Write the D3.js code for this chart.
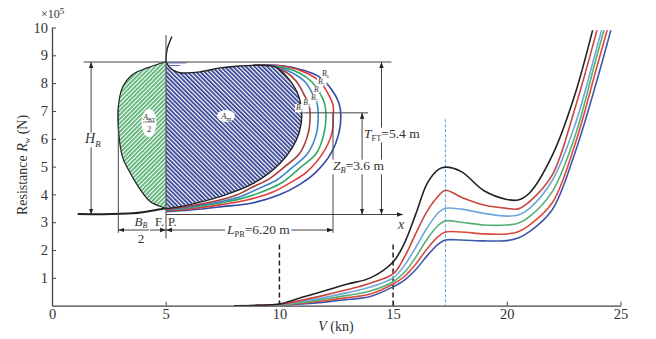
<!DOCTYPE html>
<html>
<head>
<meta charset="utf-8">
<script src="https://cdnjs.cloudflare.com/ajax/libs/d3/7.8.5/d3.min.js"></script>
<style>
body { margin: 0; background: #fff; }
text { font-family: "Liberation Serif", serif; fill: #333; }
</style>
</head>
<body>
<svg id="chart" width="656" height="339"></svg>
<script>
// resistance curves, V in knots, R in 10^5 N
var speed = [8, 9, 10, 11, 12, 13, 14, 15, 15.5, 16, 16.5, 17, 17.3, 18, 19, 20, 20.5, 21, 22, 23, 24, 25]
var r1 = [0, .01, .06, .30, .54, .78, 1.0, 1.57, 2.25, 3.3, 4.4, 4.9, 4.98, 4.82, 4.13, 3.82, 3.8, 4.05, 5.4, 7.6, 10.6, 13.6]
var r2 = [0, .01, .05, .20, .38, .58, .81, 1.14, 1.75, 2.6, 3.4, 3.95, 4.15, 3.9, 3.62, 3.5, 3.48, 3.74, 4.7, 7.1, 10, 13]
var r3 = [0, .01, .04, .16, .30, .47, .67, 1.0, 1.45, 2.1, 2.8, 3.35, 3.5, 3.47, 3.32, 3.22, 3.26, 3.5, 4.5, 6.5, 9.4, 12.4]
var r4 = [0, .01, .03, .12, .24, .37, .53, .86, 1.2, 1.75, 2.4, 2.9, 3.05, 3.0, 2.9, 2.9, 2.96, 3.2, 4.1, 6.1, 9.1, 12]
var r5 = [0, 0, .02, .09, .18, .29, .42, .78, 1.05, 1.5, 2.05, 2.5, 2.65, 2.65, 2.58, 2.58, 2.66, 2.9, 3.7, 5.8, 8.7, 11.6]
var r6 = [0, 0, .01, .06, .13, .22, .33, .68, .92, 1.3, 1.8, 2.22, 2.36, 2.36, 2.33, 2.34, 2.43, 2.66, 3.45, 5.5, 8.2, 11.2]
var rColors = ["#222222", "#c9463f", "#6fa8d8", "#55b078", "#dc4a3e", "#3f57ad"]

var xTicks = [0, 5, 10, 15, 20, 25]
var yTicks = [1, 2, 3, 4, 5, 6, 7, 8, 9, 10]
var dashMarks = [10, 15]

// inset hull sections, [x, z] in metres from midship and baseline
var foreHull = [[0, 5.41], [-.70, 5.19], [-1.25, 4.95], [-1.62, 4.49], [-1.77, 3.82], [-1.77, 3.07], [-1.62, 2.05], [-1.40, 1.59], [-1.03, .99], [-.59, .46], [-.11, .25], [0, .21]]
var b1 = [[0, 5.41], [.15, 5.19], [.33, 5.08], [.52, 5.02], [1.26, 5.05], [2.0, 5.19], [2.73, 5.26], [3.23, 5.28], [4.05, 5.23], [4.54, 4.82], [4.91, 4.23], [5.04, 3.52], [4.94, 2.88], [4.67, 2.34], [4.23, 1.81], [3.24, 1.1], [2.0, .63], [.89, .35], [0, .21]]
var b2 = [[3.23, 5.28], [3.86, 5.26], [4.48, 5.03], [4.85, 4.7], [5.1, 4.29], [5.31, 3.88], [5.35, 3.52], [5.28, 2.88], [4.97, 2.18], [4.35, 1.65], [3.86, 1.28], [3.24, .98], [2.62, .69], [2.0, .51], [.89, .3], [0, .19]]
var b3 = [[3.23, 5.28], [4.11, 5.23], [4.71, 5.0], [5.16, 4.7], [5.43, 4.29], [5.62, 3.88], [5.65, 3.52], [5.59, 2.88], [5.27, 2.18], [4.67, 1.65], [4.11, 1.22], [3.49, .94], [2.75, .63], [2.0, .45], [.89, .27], [0, .17]]
var b4 = [[3.23, 5.28], [4.34, 5.21], [4.97, 5.0], [5.41, 4.7], [5.72, 4.29], [5.9, 3.88], [5.94, 3.52], [5.87, 2.88], [5.59, 2.18], [4.97, 1.65], [4.34, 1.15], [3.74, .87], [2.86, .58], [2.0, .41], [.89, .24], [0, .15]]
var b5 = [[3.23, 5.28], [4.49, 5.23], [5.23, 5.0], [5.72, 4.7], [6.01, 4.29], [6.2, 3.88], [6.21, 3.52], [6.16, 2.88], [5.83, 2.18], [5.23, 1.51], [4.6, 1.12], [3.97, .8], [3.0, .51], [2.0, .34], [.89, .2], [0, .13]]
var b6 = [[3.23, 5.28], [4.32, 5.27], [5.06, 5.12], [5.68, 4.88], [6.16, 4.41], [6.42, 3.95], [6.49, 3.51], [6.42, 2.88], [6.13, 2.17], [5.57, 1.5], [4.94, 1.05], [4.21, .7], [3.21, .41], [1.99, .27], [.89, .16], [0, .10]]
var keel = [[-3.28, .02], [-1.22, .04], [-.11, .2], [0, .21]]
var stem = [[0, 5.41], [.04, 5.84], [.22, 6.3]]
var bulbTop = [[0, 5.4], [.9, 5.4], [.5, 5.27], [.15, 5.19]]
var hullColors = ["#a93b3c", "#3b86c8", "#2fa865", "#e03b3b", "#3546a8"]
var bLabels = [[4.83, 3.70, "1"], [5.10, 3.88, "2"], [5.38, 4.05, "3"], [5.49, 4.34, "4"], [5.64, 4.62, "5"], [5.79, 4.90, "6"]]

var svg = d3.select("#chart")

var x = d3.scaleLinear().domain([0, 25]).range([52, 620.5])
var y = d3.scaleLinear().domain([0, 10]).range([305.7, 27.5])

// inset scales
var hx = d3.scaleLinear().domain([0, 6.2]).range([166, 333])
var hz = d3.scaleLinear().domain([0, 5.4]).range([214.5, 62])

var defs = svg.append("defs")
defs.append("clipPath").attr("id", "plotClip").append("rect")
    .attr("x", x(0)).attr("y", y(9.9))
    .attr("width", x(25) - x(0)).attr("height", y(0) - y(9.9))

function hatch(id, color, angle, width) {
    var p = defs.append("pattern").attr("id", id)
        .attr("patternUnits", "userSpaceOnUse")
        .attr("width", 3).attr("height", 3)
        .attr("patternTransform", "rotate(" + angle + ")")
    p.append("rect").attr("width", 3).attr("height", 3).attr("fill", "#fff")
    p.append("rect").attr("width", width).attr("height", 3).attr("fill", color)
}
hatch("hatchGreen", "#4fae6c", 45, 1.7)
hatch("hatchBlue", "#2b3a8f", -45, 1.7)

defs.append("pattern").attr("id", "hatchFlat")
    .attr("patternUnits", "userSpaceOnUse").attr("width", 3).attr("height", 2.5)
    .append("rect").attr("width", 3).attr("height", 1).attr("fill", "#5563b5")

defs.append("marker").attr("id", "arrow")
    .attr("viewBox", "0 0 6 6").attr("refX", 6).attr("refY", 3)
    .attr("markerWidth", 6).attr("markerHeight", 6)
    .attr("orient", "auto-start-reverse")
    .append("path").attr("d", "M0,.8L6,3L0,5.2Z").attr("fill", "#222")

// axes
var xAxis = d3.axisBottom(x).tickValues(xTicks).tickSizeInner(-4).tickSizeOuter(0).tickPadding(3.5)
var yAxis = d3.axisLeft(y).tickValues(yTicks).tickSizeInner(-4).tickSizeOuter(0).tickPadding(4)
var gx = svg.append("g").attr("transform", "translate(0," + y(0) + ")").call(xAxis)
var gy = svg.append("g").attr("transform", "translate(" + x(0) + ",0)").call(yAxis)
svg.selectAll(".domain").attr("stroke", "#444").attr("stroke-width", 1.3)
svg.selectAll(".tick line").attr("stroke", "#444")
svg.selectAll(".tick text").style("font-family", '"Liberation Serif", serif').style("font-size", "14.5px").attr("fill", "#333")

svg.append("text").attr("x", 41).attr("y", 18).style("font-size", "12px")
    .html('×10<tspan dy="-4" font-size="9">5</tspan>')

var yLabel = svg.append("text")
    .attr("transform", "translate(27,165) rotate(-90)")
    .attr("text-anchor", "middle").style("font-size", "14px")
yLabel.append("tspan").text("Resistance ")
yLabel.append("tspan").attr("font-style", "italic").text("R")
yLabel.append("tspan").attr("font-size", "8").attr("dy", 3).attr("font-style", "italic").text("w")
yLabel.append("tspan").attr("dy", -3).text(" (N)")

var xLabel = svg.append("text").attr("x", 336).attr("y", 331)
    .attr("text-anchor", "middle").style("font-size", "14px")
xLabel.append("tspan").attr("font-style", "italic").text("V")
xLabel.append("tspan").text(" (kn)")

// reference lines in the main plot
svg.selectAll(".vmark").data(dashMarks).enter().append("line")
    .attr("x1", d => x(d)).attr("x2", d => x(d))
    .attr("y1", y(2.2)).attr("y2", y(0))
    .attr("stroke", "#222").attr("stroke-width", 1.5).attr("stroke-dasharray", "5,3")
svg.append("line").attr("x1", x(17.3)).attr("x2", x(17.3))
    .attr("y1", y(6.7)).attr("y2", y(0))
    .attr("stroke", "#5b9bd5").attr("stroke-width", 1).attr("stroke-dasharray", "3,2")

// resistance curves
var rLine = d3.line()
    .x((d, i) => x(speed[i]))
    .y(d => y(d))
    .curve(d3.curveCatmullRom.alpha(.5))
svg.append("g").attr("clip-path", "url(#plotClip)")
    .selectAll("path").data([r6, r5, r4, r3, r2, r1]).enter().append("path")
    .attr("d", rLine)
    .attr("fill", "none")
    .attr("stroke", (d, i) => rColors[5 - i])
    .attr("stroke-width", 1.6)

// inset: body plan
var hullLine = d3.line().x(d => hx(d[0])).y(d => hz(d[1])).curve(d3.curveCatmullRom.alpha(.5))
var straight = d3.line().x(d => hx(d[0])).y(d => hz(d[1]))

function dim(x1, y1, x2, y2, arrows) {
    var l = svg.append("line").attr("x1", x1).attr("y1", y1).attr("x2", x2).attr("y2", y2)
        .attr("stroke", "#444").attr("stroke-width", 1)
    if (arrows) l.attr("marker-start", "url(#arrow)").attr("marker-end", "url(#arrow)")
    return l
}

svg.append("path").datum(bulbTop).attr("d", straight).attr("fill", "url(#hatchFlat)")

svg.selectAll(".hull").data([b6, b5, b4, b3, b2]).enter().append("path")
    .attr("d", hullLine).attr("fill", "none")
    .attr("stroke", (d, i) => hullColors[4 - i]).attr("stroke-width", 1.6)

svg.append("path").datum(foreHull).attr("d", hullLine)
    .attr("fill", "url(#hatchGreen)").attr("stroke", "#222").attr("stroke-width", 1.2)
svg.append("path").datum(b1).attr("d", hullLine)
    .attr("fill", "url(#hatchBlue)").attr("stroke", "#222").attr("stroke-width", 1.4)
svg.append("path").datum(keel).attr("d", hullLine).attr("fill", "none").attr("stroke", "#222").attr("stroke-width", 2)
svg.append("path").datum(stem).attr("d", hullLine).attr("fill", "none").attr("stroke", "#222").attr("stroke-width", 1.4)

// dimension lines
dim(hx(-3.06), hz(5.4), hx(8.37), hz(5.4))
dim(hx(0), hz(6.35), hx(0), hz(-.85))
dim(hx(0), hz(0), hx(8.8), hz(0)).attr("marker-end", "url(#arrow)")
dim(hx(-1.77), hz(3.8), hx(-1.77), hz(-.65))
dim(hx(-2.78), hz(5.4), hx(-2.78), hz(0), true)
dim(hx(-1.77), hz(-.55), hx(0), hz(-.55), true)
dim(hx(0), hz(-.55), hx(6.2), hz(-.55), true)
dim(hx(6.2), hz(3.6), hx(6.2), hz(-.65))
dim(hx(5.0), hz(3.6), hx(7.5), hz(3.6))
dim(hx(7.28), hz(3.6), hx(7.28), hz(0), true)
dim(hx(8.0), hz(5.4), hx(8.0), hz(0), true)

// inset labels, white box behind so the dimension lines break
function label(px, py, main, sub, rest, size, subItalic) {
    var t = svg.append("text").attr("x", px).attr("y", py).style("font-size", size + "px")
    t.append("tspan").attr("font-style", "italic").text(main)
    var s = t.append("tspan").attr("font-size", size * .62).attr("dy", size * .25).text(sub)
    if (subItalic) s.attr("font-style", "italic")
    if (rest) t.append("tspan").attr("dy", -size * .25).text(rest)
    var box = t.node().getBBox()
    svg.insert("rect", function () { return t.node() })
        .attr("x", box.x - 1).attr("y", box.y + size * .12)
        .attr("width", box.width + 2).attr("height", box.height - size * .2)
        .attr("fill", "#fff")
    return t
}
label(85, 143, "H", "B", "", 14, true)
label(364, 138, "T", "FT", "=5.4 m", 13.5)
label(333, 170, "Z", "B", "=3.6 m", 13.5, true)
label(227, 234, "L", "PR", "=6.20 m", 13.5)

svg.append("text").attr("x", 398).attr("y", 229).attr("font-style", "italic").style("font-size", "14px").text("x")
svg.append("text").attr("x", 155).attr("y", 226).style("font-size", "12.5px").text("F.")
svg.append("text").attr("x", 168).attr("y", 226).style("font-size", "12.5px").text("P.")

// B_B / 2 fraction
var frac = svg.append("g").attr("text-anchor", "middle")
frac.append("rect").attr("x", 134).attr("y", 215).attr("width", 16).attr("height", 28).attr("fill", "#fff")
var fb = frac.append("text").attr("x", 141).attr("y", 226).style("font-size", "13px")
fb.append("tspan").attr("font-style", "italic").text("B")
fb.append("tspan").attr("font-size", 8).attr("font-style", "italic").attr("dy", 2).text("B")
frac.append("line").attr("x1", 134).attr("x2", 149).attr("y1", 230).attr("y2", 230).attr("stroke", "#444")
frac.append("text").attr("x", 141).attr("y", 243).style("font-size", "13px").text("2")

// area labels
svg.append("ellipse").attr("cx", 149).attr("cy", 123).attr("rx", 7.5).attr("ry", 14).attr("fill", "#fff")
var ab = svg.append("text").attr("x", 149).attr("y", 120).attr("text-anchor", "middle").style("font-size", "8.5px")
ab.append("tspan").attr("font-style", "italic").text("A")
ab.append("tspan").attr("font-size", 5.5).attr("dy", 1.5).text("BT")
svg.append("line").attr("x1", 143).attr("x2", 155).attr("y1", 122).attr("y2", 122).attr("stroke", "#333").attr("stroke-width", .6)
svg.append("text").attr("x", 149).attr("y", 132).attr("text-anchor", "middle").style("font-size", "8.5px").text("2")

svg.append("ellipse").attr("cx", 226).attr("cy", 116).attr("rx", 9).attr("ry", 6).attr("fill", "#fff")
var am = svg.append("text").attr("x", 226).attr("y", 119).attr("text-anchor", "middle").style("font-size", "9px")
am.append("tspan").attr("font-style", "italic").text("A")
am.append("tspan").attr("font-size", 6).attr("dy", 1.5).text("m")

bLabels.forEach(function (d) {
    label(hx(d[0]), hz(d[1]), "B", d[2], "", 7.5)
})
</script>
</body>
</html>
